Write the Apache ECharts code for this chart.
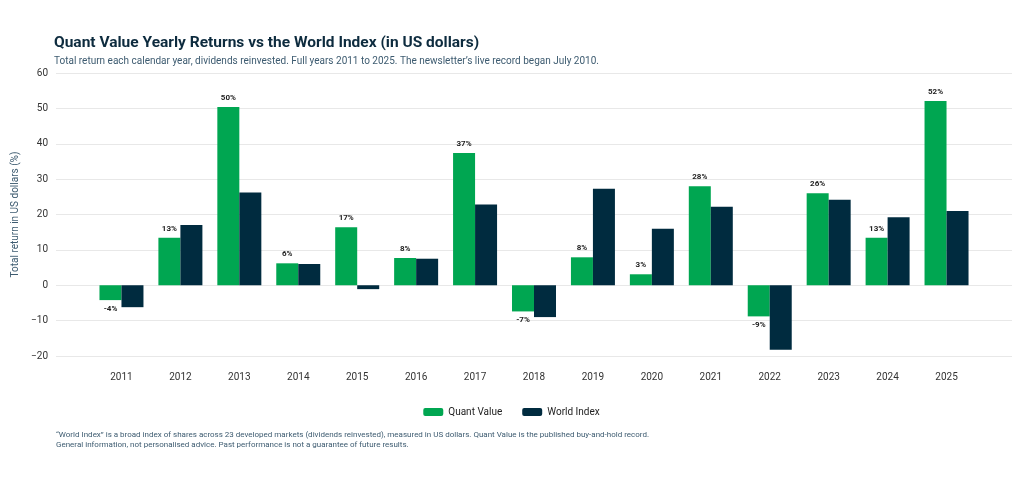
<!DOCTYPE html>
<html lang="en">
<head>
<meta charset="UTF-8">
<title>Quant Value Yearly Returns</title>
<script src="https://cdn.jsdelivr.net/npm/echarts@6/dist/echarts.min.js"></script>
<style>body{margin:0;background:#fff}#chart{width:1023px;height:488px}</style>
</head>
<body>
<div id="chart"></div>
<script>
var years = ['2011','2012','2013','2014','2015','2016','2017','2018','2019','2020','2021','2022','2023','2024','2025'];
var quantValue = [-4.2, 13.4, 50.4, 6.2, 16.4, 7.7, 37.4, -7.4, 7.9, 3.1, 28.0, -8.8, 26.0, 13.4, 52.1];
var worldIndex = [-6.2, 17.0, 26.2, 6.0, -1.1, 7.5, 22.8, -9.0, 27.3, 16.0, 22.2, -18.2, 24.2, 19.2, 21.0];
var quantLabels = ['-4%','13%','50%','6%','17%','8%','37%','-7%','8%','3%','28%','-9%','26%','13%','52%'];

var chart = echarts.init(document.getElementById('chart'));
var font = 'Roboto, "Noto Sans", sans-serif';

chart.setOption({
  textStyle: {fontFamily: font},
  title: {
    text: 'Quant Value Yearly Returns vs the World Index (in US dollars)',
    subtext: 'Total return each calendar year, dividends reinvested. Full years 2011 to 2025. The newsletter\u2019s live record began July 2010.',
    left: 49, top: 30, itemGap: 5,
    textStyle: {fontSize: 15.5, fontWeight: 'bold', color: '#0d2b3e', fontFamily: font},
    subtextStyle: {fontSize: 10, color: '#3d5b70', fontFamily: font}
  },
  legend: {
    bottom: 66, left: 'center', itemWidth: 20, itemHeight: 8, itemGap: 20,
    textStyle: {fontSize: 10, color: '#222'},
    data: ['Quant Value', 'World Index']
  },
  grid: [
    {left: 56, right: 11, top: 73, bottom: 132},
    {left: 92, right: 47, top: 73, bottom: 132}
  ],
  xAxis: [
    {type: 'category', gridIndex: 0, data: ['a'], show: false},
    {
      type: 'category', gridIndex: 1, data: years,
      axisTick: {show: false},
      axisLine: {show: false, onZero: false},
      axisLabel: {fontSize: 10, color: '#333', margin: 16}
    }
  ],
  yAxis: [
    {
      type: 'value', gridIndex: 0, min: -20, max: 60, interval: 10,
      name: 'Total return in US dollars (%)', nameLocation: 'middle', nameGap: 27,
      nameTextStyle: {fontSize: 10, color: '#3d5b70'},
      axisLabel: {fontSize: 10, color: '#333', formatter: function (v) { return v < 0 ? '\u2212' + (-v) : v; }},
      splitLine: {lineStyle: {color: '#e8e8e8'}}
    },
    {type: 'value', gridIndex: 1, min: -20, max: 60, interval: 10, show: false, splitLine: {show: false}}
  ],
  series: [
    {
      name: 'Quant Value', type: 'bar', xAxisIndex: 1, yAxisIndex: 1, barWidth: 22, barGap: '0%',
      itemStyle: {color: '#00a651'},
      data: quantValue.map(function (v, i) {
        return {value: v, label: {show: true, position: v < 0 ? 'bottom' : 'top', formatter: quantLabels[i],
          fontSize: 8, fontWeight: 'bold', color: '#222'}};
      })
    },
    {
      name: 'World Index', type: 'bar', xAxisIndex: 1, yAxisIndex: 1, barWidth: 22,
      itemStyle: {color: '#002b3f'},
      data: worldIndex
    }
  ],
  graphic: [
    {type: 'text', left: 56, top: 431, style: {text: '\u201cWorld Index\u201d is a broad index of shares across 23 developed markets (dividends reinvested), measured in US dollars. Quant Value is the published buy-and-hold record.', fontSize: 8, fill: '#3d5b70', fontFamily: font}},
    {type: 'text', left: 56, top: 441, style: {text: 'General information, not personalised advice. Past performance is not a guarantee of future results.', fontSize: 8, fill: '#3d5b70', fontFamily: font}}
  ]
});
</script>
</body>
</html>
